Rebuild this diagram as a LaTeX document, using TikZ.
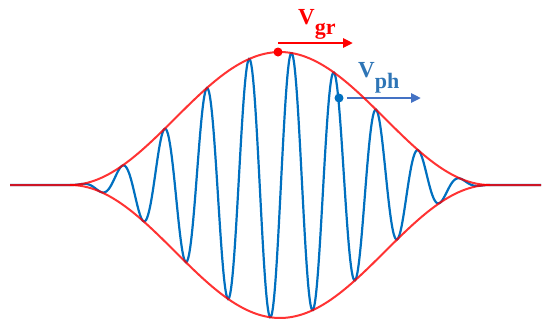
\documentclass[tikz,border=0pt]{standalone}
\usepackage{fontspec}
\setmainfont{Liberation Serif}
\usetikzlibrary{
    arrows.meta,
    positioning
}
\definecolor{WaveBlue}{RGB}{0,112,192}
\definecolor{EnvRed}{RGB}{255,0,0}
\definecolor{PhArrow}{RGB}{68,114,196}
\definecolor{PhText}{RGB}{46,117,182}
\tikzset{
  env/.style     = {EnvRed, line width=2pt, opacity=0.8},
  carrier/.style = {WaveBlue, line width=2.2pt},
  velarr/.style  = {-{Triangle[length=10pt,width=9pt]}, line width=2.6pt},
  velname/.style = {anchor=base west, inner sep=0pt,
                    font=\fontsize{23}{26}\selectfont\bfseries},
  marker/.style  = {circle, inner sep=0pt, minimum size=9pt}
}

\begin{document}
\begin{tikzpicture}[x=1pt, y=-1pt]
    \useasboundingbox (0,0) rectangle (542,322);

    \draw[carrier] (10,185) -- plot[domain=70:490, samples=421, smooth]
      (\x, {185-133*pow(cos(3*(\x-280)/7),2)*cos(8.4906*(\x-291.5))}) -- (541,185);

    \draw[velarr, PhArrow] (347,98) coordinate (phs) -- (421,98) coordinate (phe);

    \draw[env] (10,185) -- plot[domain=70:490, samples=120, smooth]
      (\x, {185-133*pow(cos(3*(\x-280)/7),2)}) -- (541,185);
    \draw[env] (70,185) -- plot[domain=70:490, samples=120, smooth]
      (\x, {185+133*pow(cos(3*(\x-280)/7),2)});

    \node[marker, fill=EnvRed] (grdot) at (278,52) {};
    \node[marker, fill=WaveBlue] (phdot) at (339,98) {};

    \coordinate (grs) at (278,43);
    \coordinate (gre) at (353,43);
    \draw[velarr, EnvRed] (grs) -- (gre);

    \node[velname, text=EnvRed] (vgr) at (298,24)
      {V\raisebox{-10pt}{\fontsize{22}{24}\selectfont gr}};
    \node[velname, text=PhText] (vph) at (358,77)
      {V\raisebox{-11pt}{\fontsize{22}{24}\selectfont ph}};
\end{tikzpicture}
\end{document}
